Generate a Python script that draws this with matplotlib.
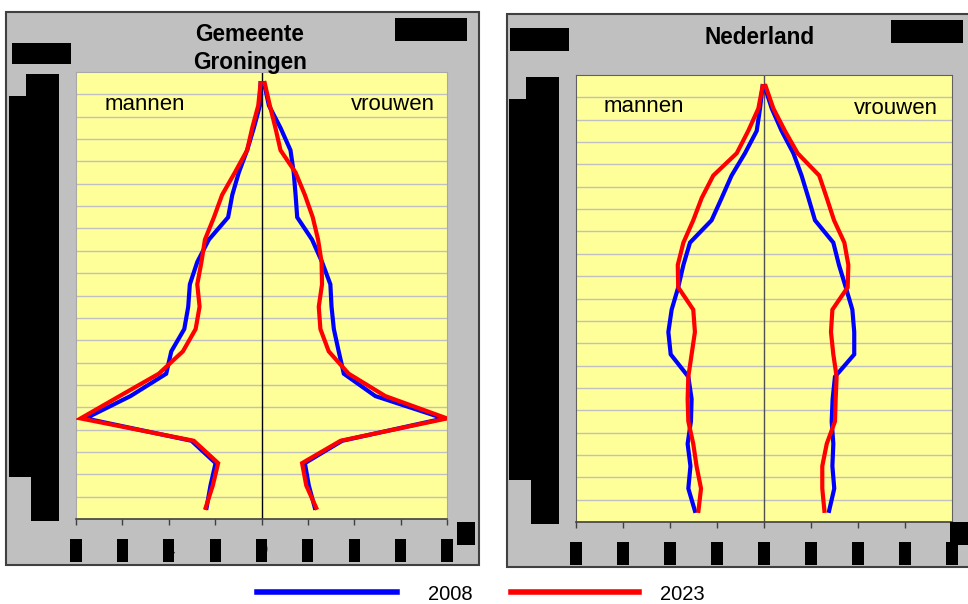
import matplotlib
matplotlib.use('Agg')
import matplotlib.pyplot as plt
from matplotlib.patches import Rectangle
from matplotlib.lines import Line2D
from matplotlib.path import Path
from matplotlib import font_manager
import numpy as np

plt.rcParams['font.family'] = ['Liberation Sans', 'DejaVu Sans']

# vette titel: expliciet het gewone (niet-narrow) Liberation Sans Bold bestand
bold_files = [f for f in font_manager.findSystemFonts() if f.endswith('LiberationSans-Bold.ttf')]
if bold_files:
    title_font = font_manager.FontProperties(fname=bold_files[0], size=16.3)
else:
    title_font = font_manager.FontProperties(family='DejaVu Sans', weight='bold', size=15)

# leeftijdsklassen, van jong (onder) naar oud (boven)
age_labels = ['0-4', '5-9', '10-14', '15-19', '20-24', '25-29', '30-34', '35-39',
              '40-44', '45-49', '50-54', '55-59', '60-64', '65-69', '70-74',
              '75-79', '80-84', '85-89', '90-94', '95+']

gron_man_2008 = [2.37, 2.20, 1.98, 3.02, 7.59, 5.65, 4.11, 3.89, 3.33, 3.16,
                 3.09, 2.77, 2.27, 1.44, 1.26, 0.98, 0.62, 0.33, 0.07, 0.04]
gron_man_2023 = [2.41, 2.10, 1.87, 2.92, 7.80, 6.12, 4.43, 3.39, 2.84, 2.67,
                 2.77, 2.59, 2.44, 2.05, 1.70, 1.15, 0.62, 0.40, 0.14, 0.04]
gron_vrouw_2008 = [2.30, 2.04, 1.87, 3.48, 7.86, 4.91, 3.55, 3.33, 3.12, 3.02,
                   2.97, 2.61, 2.18, 1.54, 1.47, 1.39, 1.25, 0.82, 0.32, 0.11]
gron_vrouw_2023 = [2.36, 1.93, 1.75, 3.41, 8.00, 5.34, 3.76, 2.90, 2.54, 2.47,
                   2.61, 2.59, 2.44, 2.21, 1.87, 1.47, 0.82, 0.60, 0.36, 0.14]

nl_man_2008 = [2.94, 3.22, 3.13, 3.25, 3.11, 3.08, 3.22, 3.97, 4.07, 3.93,
               3.65, 3.43, 3.15, 2.23, 1.80, 1.38, 0.81, 0.31, 0.17, 0.06]
nl_man_2023 = [2.79, 2.68, 2.87, 3.01, 3.22, 3.25, 3.22, 3.08, 2.94, 3.01,
               3.65, 3.67, 3.43, 3.01, 2.65, 2.16, 1.16, 0.67, 0.24, 0.06]
nl_vrouw_2008 = [2.77, 2.99, 2.91, 2.95, 2.88, 2.92, 3.02, 3.84, 3.84, 3.76,
                 3.48, 3.19, 2.95, 2.17, 1.89, 1.60, 1.25, 0.75, 0.33, 0.02]
nl_vrouw_2023 = [2.57, 2.48, 2.48, 2.67, 3.02, 3.05, 3.09, 2.95, 2.85, 2.91,
                 3.56, 3.59, 3.42, 2.98, 2.67, 2.35, 1.43, 0.89, 0.40, 0.07]

x_ticks = [-8, -6, -4, -2, 0, 2, 4, 6, 8]
x_labels = ['8', '6', '4', '2', '0', '2', '4', '6', '8']
years = ['2008', '2023']
colors = ['#0000FF', '#FF0000']

W, H = 968, 604
fig = plt.figure(figsize=(W / 100, H / 100), dpi=100)


def fx(px):
    return px / W


def fy(py):
    return 1 - py / H


def tall_box(target):
    # zwart afdekblok: alleen verticaal opvullen tot 'target' pixels hoog
    def box(x0, y0, width, height, mutation_size):
        py = max(0.0, (target - height) / 2)
        return Path([(x0, y0 - py), (x0 + width, y0 - py), (x0 + width, y0 + height + py),
                     (x0, y0 + height + py), (x0, y0 - py)], closed=True)
    return box


def blackbox(target):
    return dict(boxstyle=tall_box(target), facecolor='black', edgecolor='black', lw=0)


# grijze kaders (achter de assen)
fig.patches.append(Rectangle((fx(6), fy(565)), fx(473), 553 / H, transform=fig.transFigure,
                             facecolor='#C0C0C0', edgecolor='#404040', lw=1.5, zorder=-5))
fig.patches.append(Rectangle((fx(507), fy(567)), fx(470), 553 / H, transform=fig.transFigure,
                             facecolor='#C0C0C0', edgecolor='#404040', lw=1.5, zorder=-5))


def pyramid(rect, men, women, spine_col, axis_col):
    ax = fig.add_axes(rect)
    ax.set_facecolor('#FFFF99')
    y = np.arange(len(age_labels))
    for (m, v), c in zip(zip(men, women), colors):
        ax.plot(-np.array(m), y, color=c, lw=3, solid_joinstyle='miter', zorder=3)
        ax.plot(v, y, color=c, lw=3, solid_joinstyle='miter', zorder=3)
    ax.axvline(0, color=axis_col, lw=1, zorder=2)
    ax.set_xlim(-8, 8)
    ax.set_ylim(-0.5, len(age_labels) - 0.5)
    ax.set_xticks(x_ticks)
    ax.set_xticklabels(x_labels, fontsize=14.5, color='black')
    ax.set_yticks(y)
    ax.set_yticklabels(age_labels, fontsize=14, color='black')
    ax.set_yticks(y[:-1] + 0.5, minor=True)
    ax.grid(which='minor', axis='y', color='#C0C0C0', lw=1)
    ax.tick_params(axis='y', which='both', length=0, pad=12)
    ax.tick_params(axis='x', length=4.5, width=1, color='#404040', pad=11.3)
    for lab in ax.get_xticklabels():
        lab.set_bbox(blackbox(23))
    for lab in ax.get_yticklabels():
        lab.set_bbox(blackbox(23.2))
    for s in ['left', 'top', 'right']:
        ax.spines[s].set_color(spine_col)
    ax.spines['bottom'].set_color('#404040')
    ax.spines['bottom'].set_linewidth(1.2)
    return ax


ax1 = pyramid([fx(76), fy(519), fx(371), 447 / H], [gron_man_2008, gron_man_2023],
              [gron_vrouw_2008, gron_vrouw_2023], '#A8A8A8', 'black')
ax2 = pyramid([fx(576), fy(522), fx(376), 447 / H], [nl_man_2008, nl_man_2023],
              [nl_vrouw_2008, nl_vrouw_2023], '#606060', '#505050')

ax1.text(0.078, 0.915, 'mannen', transform=ax1.transAxes, fontsize=16, va='baseline')
ax1.text(0.968, 0.915, 'vrouwen', transform=ax1.transAxes, fontsize=16, va='baseline', ha='right')
ax2.text(0.0745, 0.917, 'mannen', transform=ax2.transAxes, fontsize=16, va='baseline')
ax2.text(0.963, 0.913, 'vrouwen', transform=ax2.transAxes, fontsize=16, va='baseline', ha='right')

# titels
fig.text(fx(250), fy(23), 'Gemeente\nGroningen', fontproperties=title_font,
         ha='center', va='top', multialignment='center', linespacing=1.3)
fig.text(fx(760), fy(44), 'Nederland', fontproperties=title_font,
         ha='center', va='baseline')

# overige (afgedekte) teksten
for x, y_, t, h in [(41.5, 53.5, 'leeftijd', 21), (539.5, 39.5, 'leeftijd', 23),
                    (431, 29.5, 'aandeel', 23), (927, 31.5, 'aandeel', 23),
                    (465.5, 533.5, '%', 23), (959, 533.5, '%', 23)]:
    fig.text(fx(x), fy(y_), t, fontsize=14.5, color='black', ha='center', va='center',
             bbox=blackbox(h))

# legenda: twee losse items, elk met eigen lijnlengte
for handle_len, pad, c, yr, x0 in [(6.95, 1.55, colors[0], years[0], 257),
                                   (6.35, 1.05, colors[1], years[1], 511)]:
    leg = fig.legend([Line2D([], [], color=c, lw=4)], [yr], loc='center left',
                     bbox_to_anchor=(fx(x0), fy(594)), frameon=False, fontsize=14.5,
                     handlelength=handle_len, handletextpad=pad, borderpad=0,
                     borderaxespad=0)

fig.savefig('out.png', dpi=100)
